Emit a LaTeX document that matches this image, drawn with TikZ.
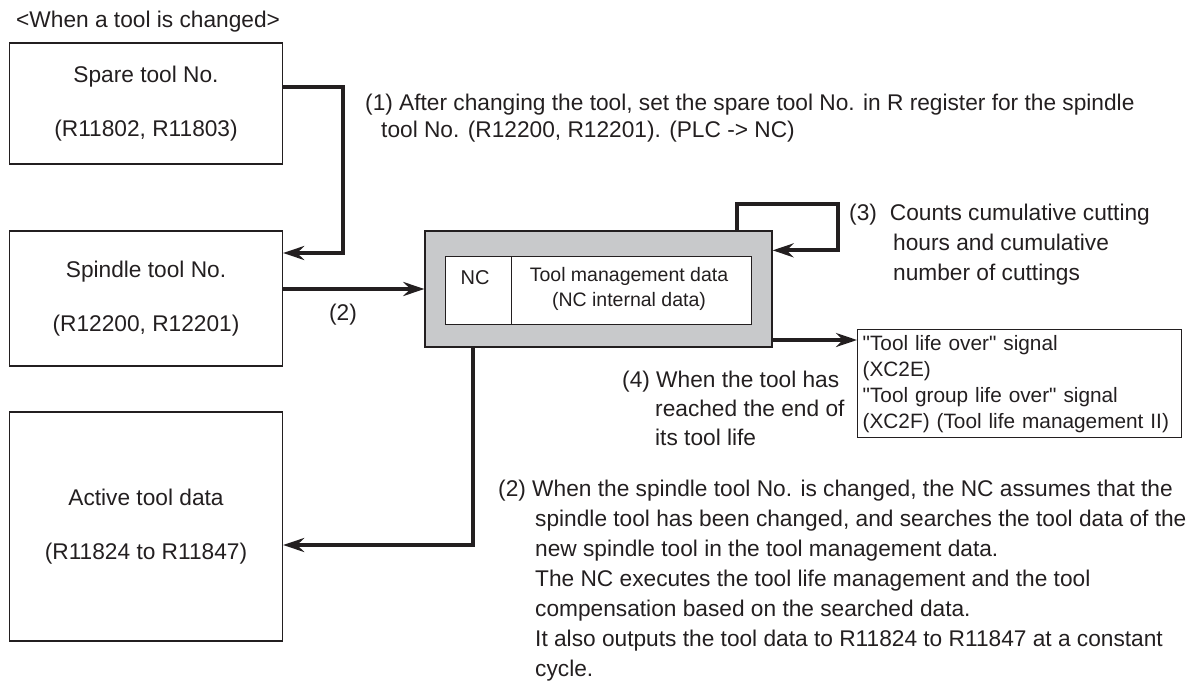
\documentclass[tikz,border=0pt]{standalone}
\usepackage{fontspec}
\setmainfont{Liberation Sans}[Ligatures=TeXOff]
\usetikzlibrary{positioning,arrows.meta}
\definecolor{ink}{HTML}{231F20}
\definecolor{panel}{HTML}{C8C9CB}

\begin{document}
\begin{tikzpicture}[
x=1pt, y=-1pt,
every node/.style={text=ink, font=\fontsize{22.7}{30}\selectfont},
box/.style={draw=ink, line width=1.3pt, minimum width=273, align=center, inner sep=0pt},
cell/.style={draw=ink, line width=1.3pt, fill=white, inner sep=0pt, anchor=north west},
note/.style={align=left, anchor=north west, inner sep=0pt, execute at begin node=\strut},
arr/.style={draw=ink, line width=4pt, -{Stealth[length=21pt,width=14pt,inset=7pt]}}
]
\useasboundingbox (0,0) rectangle (1193,685);

% left column
\node[anchor=west, inner sep=0pt] (title) at (16,22) {<When a tool is changed>};
\node[box, minimum height=121] (spare) at (146,103.5) {Spare tool No.\\[24pt](R11802, R11803)};
\node[box, minimum height=135] (spindle) at (146,298.5) {Spindle tool No.\\[24pt](R12200, R12201)};
\node[box, minimum height=229] (active) at (146,526.5) {Active tool data\\[24pt](R11824 to R11847)};

% NC block
\node[draw=ink, line width=1.3pt, fill=panel, minimum width=347, minimum height=116, inner sep=0pt] (ncout) at (598.5,289) {};
\node[cell, minimum width=66, minimum height=68] (nccell) at (445,256) {};
\node[cell, minimum width=240, minimum height=68] (datacell) at (511,256) {};
\node[font=\fontsize{20}{25}\selectfont] (nclbl) at (475,278) {NC};
\node[font=\fontsize{19.5}{25}\selectfont, align=center] (datalbl) at (629,289) {Tool management data\\(NC internal data)};

% signal box
\node[box, anchor=north west, align=left, minimum width=324, minimum height=108, text width=314,
  font=\fontsize{20.8}{26}\selectfont] (sigbox) at (857,329)
  {"Tool life over" signal\\(XC2E)\\"Tool group life over" signal\\(XC2F) (Tool life management II)};

% connectors
\draw[arr] ([yshift=17pt]spare.east) -- ++(60,0) |- ([yshift=45.5pt]spindle.east);
\draw[arr] (spindle.east |- ncout.west) -- (ncout.west);
\draw[arr] ([xshift=-36pt]ncout.north east) |- ++(101,-26) |- ([yshift=-20pt]ncout.north east);
\path ([yshift=-51pt]ncout.east) coordinate (ncsig);
\draw[arr] (ncsig) -- (ncsig -| sigbox.west);
\draw[arr] ([xshift=-125.5pt]ncout.south) |- ([yshift=-18.5pt]active.east);

% notes
\node (two) at (343,315) {(2)};
\node[note, font=\fontsize{22.7}{27}\selectfont] (n1) at (365,94)
  {(1) After changing the tool, set the spare tool No. in R register for the spindle\\\hspace*{16pt}tool No. (R12200, R12201). (PLC -> NC)};
\node[note] (n3) at (849,204)
  {(3)\hspace{13pt}Counts cumulative cutting\\\hspace*{44pt}hours and cumulative\\\hspace*{44pt}number of cuttings};
\node[note, font=\fontsize{22.7}{29}\selectfont] (n4) at (622,371)
  {(4) When the tool has\\\hspace*{33pt}reached the end of\\\hspace*{33pt}its tool life};
\node[note] (n2) at (498,480)
  {(2) When the spindle tool No. is changed, the NC assumes that the\\
  \hspace*{37pt}spindle tool has been changed, and searches the tool data of the\\
  \hspace*{37pt}new spindle tool in the tool management data.\\
  \hspace*{37pt}The NC executes the tool life management and the tool\\
  \hspace*{37pt}compensation based on the searched data.\\
  \hspace*{37pt}It also outputs the tool data to R11824 to R11847 at a constant\\
  \hspace*{37pt}cycle.};
\end{tikzpicture}
\end{document}
